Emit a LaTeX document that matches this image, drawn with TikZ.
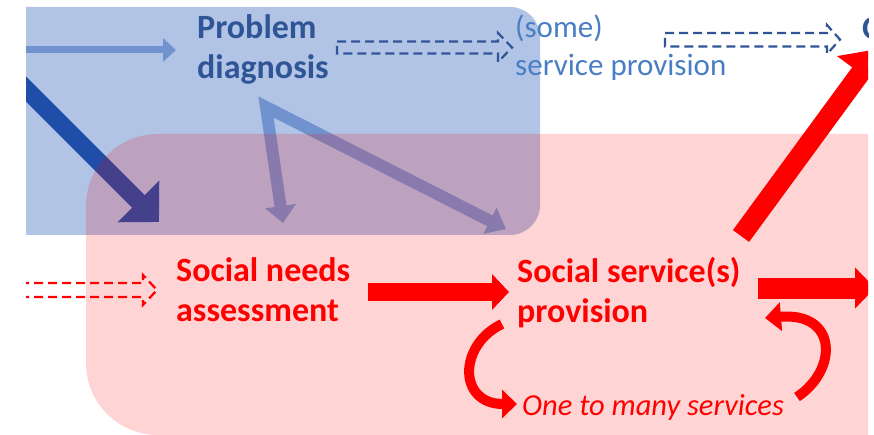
\documentclass[tikz,border=0pt]{standalone}
\usepackage{fontspec}
\setmainfont{Carlito}
\usetikzlibrary{arrows.meta}
\definecolor{dblue}{HTML}{2F5597}
\definecolor{lblue}{HTML}{4A7EC4}
\definecolor{boxblue}{HTML}{4472C4}
\definecolor{arrblue}{HTML}{7093CF}
\definecolor{deepblue}{HTML}{1F4EA8}
\tikzset{
  dasharrow/.style={line width=2.2pt, dash pattern=on 9pt off 5pt, line join=miter},
  boldtxt/.style={anchor=base west, inner sep=0pt, align=left, font=\bfseries\fontsize{34}{40}\selectfont},
  regtxt/.style={anchor=base west, inner sep=0pt, align=left, font=\fontsize{31}{38}\selectfont},
}
\begin{document}
\begin{tikzpicture}[x=1pt,y=-1pt]
\useasboundingbox (0,0) rectangle (874,435);
\begin{scope}
\clip (26,0) rectangle (868,435);
% blue area
\fill[boxblue, opacity=0.42, rounded corners=30pt] (-40,7) rectangle (540,235);
% blue arrows
\coordinate (h0) at (0,50);
\coordinate (h1) at (176,50);
\draw[arrblue, line width=7pt, -{Triangle[length=13pt,width=23pt]}] (h0) -- (h1);
\coordinate (d0) at (0,63);
\coordinate (d1) at (159,222);
\draw[deepblue, line width=18pt, -{Triangle[length=29pt,width=57pt]}] (d0) -- (d1);
\coordinate (va) at (283,223);
\coordinate (vtop) at (266,107);
\coordinate (vb) at (506,229);
\draw[arrblue, line width=12pt, line join=miter, {Triangle[length=17pt,width=30pt]}-{Triangle[length=18pt,width=28pt]}] (va) -- (vtop) -- (vb);
% pink area
\fill[red, opacity=0.17, rounded corners=72pt] (86,134) rectangle (960,435);
% dashed outline arrows
\draw[dblue, dasharrow] (337,41.5) -- (498,41.5) -- (498,33) -- (512,47.5) -- (498,62) -- (498,53.5) -- (337,53.5) -- cycle;
\draw[dblue, dasharrow] (665,33) -- (827,33) -- (827,25) -- (840,39.5) -- (827,54) -- (827,46.5) -- (665,46.5) -- cycle;
\draw[red, dasharrow] (20,283) -- (143,283) -- (143,275) -- (157,290) -- (143,305) -- (143,297) -- (20,297) -- cycle;
% texts (base anchor = last line)
\node[boldtxt, text=dblue] (pd) at (197,79) {Problem\\diagnosis};
\node[regtxt, text=lblue] (sp) at (515,76) {(some)\\service provision};
\node[boldtxt, text=dblue] (cut) at (862,40) {O};
\node[boldtxt, text=red] (sna) at (176,321) {Social needs\\assessment};
\node[boldtxt, text=red] (ssp) at (517,322) {Social service(s)\\provision};
\node[anchor=base west, inner sep=0pt, text=red, font=\itshape\fontsize{30.5}{34}\selectfont] (otm) at (522,415) {One to many services};
% red arrows
\coordinate (r0) at (368,292);
\coordinate (r1) at (509,292);
\draw[red, line width=18pt, -{Triangle[length=17pt,width=35pt]}] (r0) -- (r1);
\coordinate (s0) at (758,288);
\coordinate (s1) at (875,288);
\draw[red, line width=21pt, -{Triangle[length=20pt,width=40pt]}] (s0) -- (s1);
\coordinate (u0) at (741,236);
\coordinate (u1) at (878,49);
\draw[red, line width=20pt, -{Triangle[length=30pt,width=56pt]}] (u0) -- (u1);
\coordinate (c0) at (502,324);
\coordinate (c1) at (517,404);
\draw[red, line width=10pt, -{Triangle[length=15pt,width=28pt]}] (c0) .. controls (458,345) and (458,404) .. (c1);
\coordinate (e0) at (797,397);
\coordinate (e1) at (765,318);
\draw[red, line width=10pt, -{Triangle[length=16pt,width=28pt]}] (e0) .. controls (838,370) and (838,312) .. (e1);
\end{scope}
\end{tikzpicture}
\end{document}
